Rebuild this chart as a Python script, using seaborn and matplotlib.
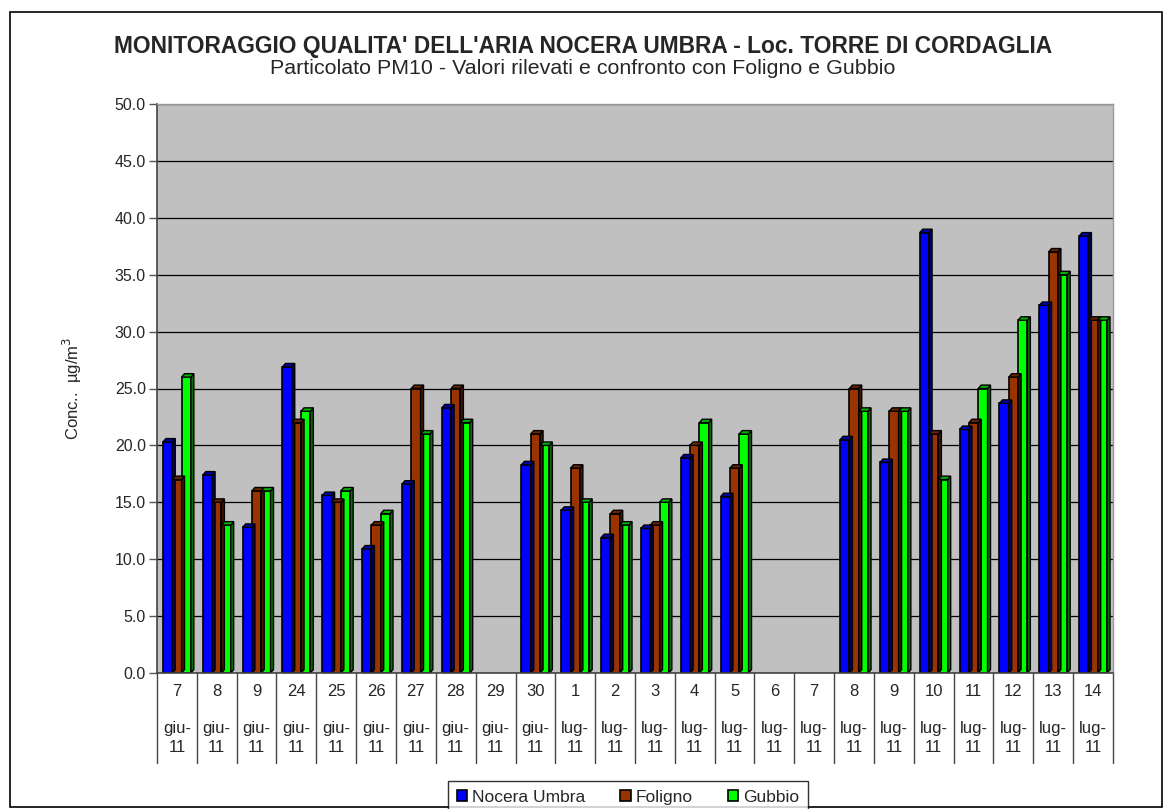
import numpy as np
import pandas as pd
import matplotlib.pyplot as plt
import seaborn as sns
from matplotlib.patches import Polygon, Rectangle, Patch

# Data (PM10, ug/m3)
days = ["7", "8", "9", "24", "25", "26", "27", "28", "29", "30",
        "1", "2", "3", "4", "5", "6", "7", "8", "9", "10", "11", "12", "13", "14"]
months = ["giu"] * 10 + ["lug"] * 14
nan = np.nan
nocera = [20.3, 17.4, 12.8, 26.9, 15.6, 10.9, 16.6, 23.3, nan, 18.3,
          14.3, 11.9, 12.7, 18.9, 15.5, nan, nan, 20.5, 18.5, 38.7, 21.4, 23.7, 32.3, 38.4]
foligno = [17, 15, 16, 22, 15, 13, 25, 25, nan, 21,
           18, 14, 13, 20, 18, nan, nan, 25, 23, 21, 22, 26, 37, 31]
gubbio = [26, 13, 16, 23, 16, 14, 21, 22, nan, 20,
          15, 13, 15, 22, 21, nan, nan, 23, 23, 17, 25, 31, 35, 31]
series = ["Nocera Umbra", "Foligno", "Gubbio"]
colors = ["#0000FF", "#993300", "#00FF00"]

labels = [f"{d}\n\n{m}-\n11" for d, m in zip(days, months)]
df = pd.DataFrame({"Data": labels, "Nocera Umbra": nocera,
                   "Foligno": foligno, "Gubbio": gubbio})
long_df = df.melt(id_vars="Data", var_name="Stazione", value_name="Conc").dropna()

sns.set_style("white")
plt.rcParams["font.family"] = ["Liberation Sans", "DejaVu Sans"]

fig = plt.figure(figsize=(11.66, 8.09), dpi=100)
ax = fig.add_axes([157 / 1166, 1 - 673 / 809, 956 / 1166, 569 / 809])
ax.set_facecolor("#C0C0C0")

sns.barplot(data=long_df, x="Data", y="Conc", hue="Stazione", order=labels,
            hue_order=series, palette=colors, width=0.7, gap=0,
            edgecolor="black", linewidth=1.2, saturation=1, legend=False, ax=ax)

# fake 3D depth on each bar
dx, dy = 0.075, 0.3
for bar in list(ax.patches):
    h = bar.get_height()
    if not np.isfinite(h) or h <= 0:
        continue
    x0, w = bar.get_x(), bar.get_width()
    fc = np.array(bar.get_facecolor()[:3])
    z = bar.get_zorder()
    side = Polygon([(x0 + w, 0), (x0 + w + dx, dy), (x0 + w + dx, h + dy), (x0 + w, h)],
                   closed=True, facecolor=fc * 0.45, edgecolor="black", lw=1.0, zorder=z)
    top = Polygon([(x0, h), (x0 + dx, h + dy), (x0 + w + dx, h + dy), (x0 + w, h)],
                  closed=True, facecolor=fc * 0.7, edgecolor="black", lw=1.0, zorder=z)
    ax.add_patch(side)
    ax.add_patch(top)

ax.set_xlim(-0.5, len(labels) - 0.5)
ax.set_ylim(0, 50)
ax.set_yticks(np.arange(0, 50.1, 5))
ax.set_yticklabels([f"{v:.1f}" for v in np.arange(0, 50.1, 5)], fontsize=11.5)
ax.yaxis.grid(True, color="black", lw=0.9)
ax.set_axisbelow(True)
ax.tick_params(axis="y", left=True, length=6, width=1, color="#555555", pad=2)
ax.set_xticks(range(len(labels)))
ax.set_xticklabels(labels)
ax.tick_params(axis="x", length=0, pad=8, labelsize=12)
for lab in ax.get_xticklabels():
    lab.set_fontsize(12)
    lab.set_linespacing(1.3)
    lab.set_verticalalignment("top")

ax.set_xlabel("")
ax.set_ylabel("Conc..  µg/m$^3$", fontsize=12, labelpad=22)

for s in ["left", "bottom"]:
    ax.spines[s].set_color("#444444")
    ax.spines[s].set_linewidth(1.2)
for s in ["top", "right"]:
    ax.spines[s].set_color("#999999")
    ax.spines[s].set_linewidth(1.0)

# category separators below the axis
trans = ax.get_xaxis_transform()
for i in range(len(labels) + 1):
    ax.plot([i - 0.5, i - 0.5], [0, -90 / 569], color="#444444", lw=1,
            transform=trans, clip_on=False)

fig.text(0.5, 1 - 47 / 809, "MONITORAGGIO QUALITA' DELL'ARIA NOCERA UMBRA - Loc. TORRE DI CORDAGLIA",
         ha="center", va="center", fontsize=16.4, fontweight="bold")
fig.text(0.5, 1 - 69 / 809, "Particolato PM10 - Valori rilevati e confronto con Foligno e Gubbio",
         ha="center", va="center", fontsize=15.4)

handles = [Patch(facecolor=c, edgecolor="black", lw=1.2) for c in colors]
leg = fig.legend(handles, series, loc="upper left", bbox_to_anchor=(448 / 1166, 1 - 781 / 809),
                 ncol=3, frameon=True, fancybox=False, fontsize=12.5, handlelength=0.6,
                 handleheight=0.6, handletextpad=0.3, columnspacing=2.0,
                 borderpad=0.5, borderaxespad=0, edgecolor="black")
leg.get_frame().set_linewidth(1.0)

fig.patches.append(Rectangle((10 / 1166, 2 / 809), 1152 / 1166, 795 / 809,
                             transform=fig.transFigure, fill=False,
                             edgecolor="black", lw=1.2))

fig.savefig("out.png", dpi=100)
